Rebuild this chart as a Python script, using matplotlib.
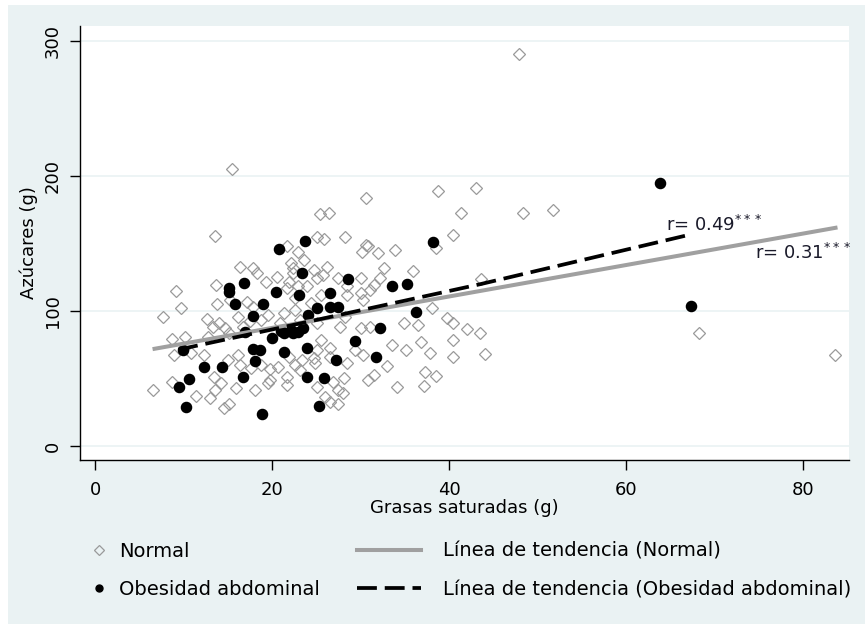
import numpy as np
import matplotlib.pyplot as plt
from matplotlib.lines import Line2D
from matplotlib.patches import Rectangle

# Normal group (grasas saturadas, azucares)
normal_x = [47.9, 15.5, 30.6, 38.7, 43.0, 41.3, 48.4, 51.8, 13.6, 68.2, 83.6, 43.5, 44.1,
            25.4, 26.4, 40.5, 25.1, 25.9, 28.2, 30.6, 30.9, 32.0, 33.9, 32.6, 35.9, 38.5,
            43.6, 30.2, 22.4, 23.6, 38.1, 39.8, 40.5, 42.0, 34.9, 36.5, 31.1, 33.6, 35.1,
            36.8, 37.9, 40.4, 40.4, 33.0, 30.8, 31.5, 34.1, 37.3, 38.5, 37.2, 28.1, 28.0,
            27.4, 26.0, 30.3, 29.4, 26.6, 25.5, 30.0, 9.1, 7.7, 6.6, 8.7, 10.2, 13.7, 13.8,
            12.7, 8.9, 8.7, 11.4, 13.0, 15.1, 14.6, 13.6, 15.9, 18.1, 19.8, 21.7, 16.4,
            16.4, 17.9, 18.3, 19.3, 20.6, 15.3, 17.2, 22.1, 22.9, 21.9, 13.3, 14.7, 14.0,
            12.8, 10.8, 12.3, 15.0, 16.1, 17.6, 18.7, 19.8, 20.7, 22.6, 21.9, 23.4, 24.9,
            25.1, 19.6, 21.7, 14.2, 13.4, 15.1, 16.1, 16.7, 19.5, 21.3, 22.6, 23.2, 17.9,
            20.9, 24.4, 25.1, 9.7, 22.4, 22.9, 18.7, 17.5, 22.1, 21.7, 24.7, 25.8, 25.1,
            27.4, 30.0, 31.5, 32.2, 28.5, 24.0, 26.2, 21.7, 22.6, 25.5, 28.5, 30.0, 31.1,
            30.3, 28.3, 27.7, 28.5, 26.6, 24.7, 23.2, 25.1, 26.9, 27.5, 26.6]
normal_y = [290, 205, 184, 188.6, 191.5, 172.4, 172.4, 175, 156, 84, 68, 84, 68.5,
            171.6, 172.4, 156.6, 154.6, 153.8, 154.6, 149, 148, 143, 145, 132, 130, 147,
            124, 144, 132, 138, 102.5, 95, 91.5, 87, 91.5, 90, 88.7, 75.4, 71.6,
            77.5, 69, 79, 66.4, 59.8, 49.4, 53, 44.3, 55.3, 52.3, 44.9, 50.9, 39.8,
            31.6, 36.8, 68, 71.6, 73, 79, 87.9, 115, 96, 42, 79.6, 81, 119.7, 105.7,
            94.6, 68, 48, 37, 36, 31.6, 28.6, 42, 43.5, 42, 49.4, 51.6, 60.5,
            133, 132, 128, 122, 125, 108.7, 107, 136, 144, 122, 88.7, 88, 91.5,
            81, 69, 68, 64, 68, 58, 60.5, 57, 59, 60.5, 66.4, 64, 61.8,
            71.6, 47, 45.7, 47, 51.6, 84, 96, 88.7, 97.5, 98.7, 101, 93.8, 103.5,
            91.5, 106, 91.5, 102.7, 128.6, 118.4, 93.8, 93, 86.4, 148, 130.8, 127, 124.9,
            124.9, 124.9, 119.8, 124.9, 118.4, 118.8, 133, 117.5, 110, 112, 112, 113.6, 116,
            108.7, 96, 88.7, 61.8, 66.4, 65.7, 56.8, 44.2, 48, 42, 33.1]

# Obesidad abdominal group
obes_x = [63.8, 67.4, 23.7, 38.2, 20.8, 23.4, 28.6, 33.6, 35.3, 26.6, 23.0, 25.1, 26.6,
          27.4, 24.1, 36.3, 32.2, 29.4, 31.7, 27.2, 23.9, 21.3, 24.0, 25.9, 25.3, 21.3,
          22.1, 15.1, 16.8, 20.5, 15.8, 19.0, 17.8, 9.9, 12.3, 14.4, 10.6, 9.5, 16.7,
          10.3, 18.9, 17.9, 18.6, 18.1, 20.0, 17.0, 22.4, 15.1, 22.9, 21.0, 23.5]
obes_y = [194.6, 104, 152, 151, 146, 128.6, 124, 119, 120, 113.6, 112, 102.6, 103.5,
          103.5, 97.5, 99.7, 88, 78.3, 66.5, 64.3, 73, 70, 51.6, 51, 30, 84,
          86, 117, 121, 114, 105.7, 105.7, 96.8, 71, 59, 59, 50, 44, 51.6,
          29.4, 24, 72, 71, 63.5, 80.5, 85, 84, 114, 85, 85.5, 88]

# trend lines
trend_n_x = [6.5, 43.5, 83.9]
trend_n_y = [72, 115, 162]
trend_o_x = [9.4, 25.3, 43.5, 67.3]
trend_o_y = [71.6, 94, 120, 156.8]

r_labels = ['r= 0.49$^{***}$', 'r= 0.31$^{***}$']
r_pos = [(64.5, 164), (74.6, 143.5)]

bg = '#EAF2F3'
fs = 13

fig = plt.figure(figsize=(8.65, 6.24), dpi=100)
fig.patch.set_facecolor('white')
fig.patches.append(Rectangle((8 / 865, 0), 1, 1 - 5 / 624, transform=fig.transFigure,
                             facecolor=bg, edgecolor='none', zorder=-10))

ax = fig.add_axes([80 / 865, 1 - 460 / 624, (849 - 80) / 865, (460 - 26) / 624])
ax.set_facecolor('white')

ax.plot(normal_x, normal_y, linestyle='none', marker='D', markersize=6.6,
        markerfacecolor='none', markeredgecolor='#9a9a9a', markeredgewidth=0.9, zorder=2)
ax.plot(obes_x, obes_y, linestyle='none', marker='o', markersize=7.3,
        color='black', zorder=3)
ax.plot(trend_n_x, trend_n_y, color='#a0a0a0', lw=2.9, solid_capstyle='butt', zorder=4)
ax.plot(trend_o_x, trend_o_y, color='black', lw=2.7, dashes=(5.3, 2.1), zorder=5)

for lab, (tx, ty) in zip(r_labels, r_pos):
    ax.text(tx, ty, lab, fontsize=fs, color='#1a1a2a', va='center', ha='left', zorder=6)

ax.set_xlim(-1.7, 85.2)
ax.set_ylim(-10, 311)
ax.set_xticks([0, 20, 40, 60, 80])
ax.set_yticks([0, 100, 200, 300])
ax.yaxis.grid(True, color=bg, lw=1.2)
ax.set_axisbelow(True)
for s in ['top', 'right']:
    ax.spines[s].set_visible(False)
for s in ['left', 'bottom']:
    ax.spines[s].set_color('black')
    ax.spines[s].set_linewidth(1.0)
ax.tick_params(axis='both', length=7, width=1, labelsize=fs, colors='black')
ax.tick_params(axis='x', pad=8)
ax.tick_params(axis='y', pad=6)
for t in ax.get_yticklabels():
    t.set_rotation(90)
    t.set_va('center')
ax.set_xlabel('Grasas saturadas (g)', fontsize=fs, labelpad=0)
ax.set_ylabel('Azúcares (g)', fontsize=fs, labelpad=4)

# legend: markers column and lines column
lfs = 14
h1 = [Line2D([], [], linestyle='none', marker='D', markersize=5, markerfacecolor='none',
             markeredgecolor='#9a9a9a', markeredgewidth=0.9),
      Line2D([], [], linestyle='none', marker='o', markersize=5, color='black')]
h2 = [Line2D([], [], color='#a0a0a0', lw=2.9),
      Line2D([], [], color='black', lw=2.7, dashes=(5.3, 2.1))]
leg1 = fig.legend(h1, ['Normal', 'Obesidad abdominal'], loc='center left',
                  bbox_to_anchor=(90 / 865, 1 - 570.5 / 624), frameon=False, fontsize=lfs,
                  handlelength=0.9, handletextpad=0.6, labelspacing=1.0, borderpad=0,
                  borderaxespad=0)
leg2 = fig.legend(h2, ['Línea de tendencia (Normal)', 'Línea de tendencia (Obesidad abdominal)'],
                  loc='center left', bbox_to_anchor=(357 / 865, 1 - 570.5 / 624),
                  frameon=False, fontsize=lfs, handlelength=3.3, handletextpad=1.1,
                  labelspacing=1.0, borderpad=0, borderaxespad=0)

fig.savefig('out.png', dpi=100, facecolor=fig.get_facecolor())
